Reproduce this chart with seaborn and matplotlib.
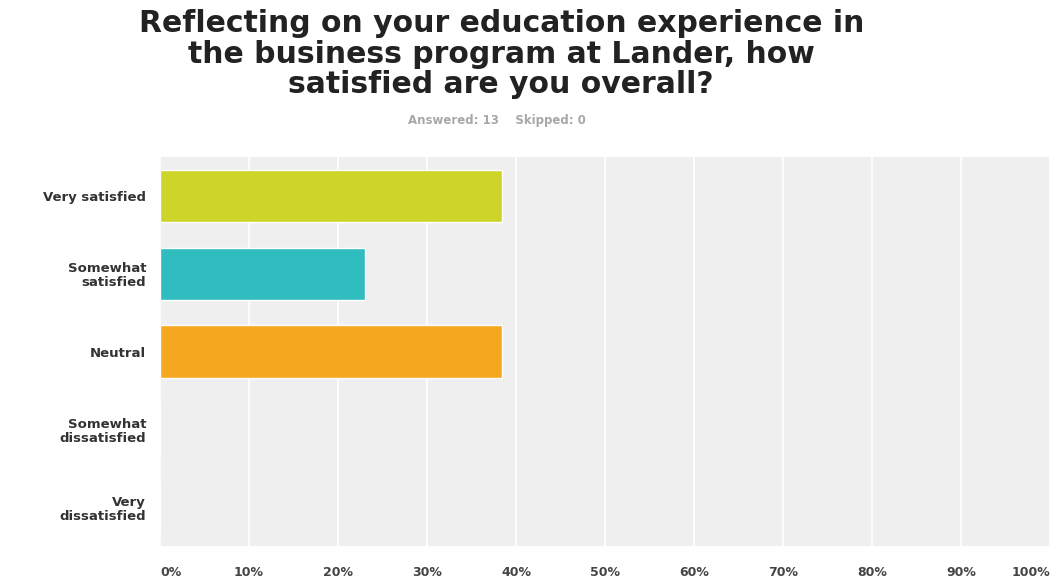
import matplotlib
matplotlib.use("Agg")
import matplotlib.pyplot as plt
import seaborn as sns
import pandas as pd

# survey answers (13 responses)
categories = ["Very satisfied", "Somewhat\nsatisfied", "Neutral",
              "Somewhat\ndissatisfied", "Very\ndissatisfied"]
percent = [38.46, 23.08, 38.46, 0, 0]
colors = ["#cdd42a", "#2fbdc0", "#f5a81f", "#e3684c", "#8e6fb5"]
xticks = [0, 10, 20, 30, 40, 50, 60, 70, 80, 90, 100]
xtick_labels = [f"{t}%" for t in xticks]

df = pd.DataFrame({"answer": categories, "pct": percent})

sns.set_style("white")
plt.rcParams["font.family"] = ["DejaVu Sans"]

fig = plt.figure(figsize=(10.53, 5.83), dpi=100)
ax = fig.add_axes([0.152, 0.063, 0.845, 0.668])

sns.barplot(data=df, x="pct", y="answer", hue="answer", palette=colors,
            order=categories, width=0.67, saturation=1, legend=False,
            ax=ax, zorder=3)

ax.set_facecolor("#efefef")
ax.set_xlim(0, 100)
ax.set_xticks(xticks)
ax.set_xticklabels(xtick_labels)
ax.grid(axis="x", color="white", linewidth=1.2, zorder=0)
ax.set_axisbelow(True)
for s in ax.spines.values():
    s.set_visible(False)
ax.set_xlabel("")
ax.set_ylabel("")
ax.tick_params(axis="both", length=0)
ax.tick_params(axis="x", pad=14)
ax.tick_params(axis="y", pad=10)
for lab in ax.get_xticklabels():
    lab.set_fontsize(9)
    lab.set_fontweight("bold")
    lab.set_color("#444444")
ax.get_xticklabels()[-1].set_horizontalalignment("right")
ax.get_xticklabels()[0].set_horizontalalignment("left")
for lab in ax.get_yticklabels():
    lab.set_fontsize(9.5)
    lab.set_fontweight("bold")
    lab.set_color("#333333")
    lab.set_linespacing(1.1)

fig.text(0.476, 0.984, "Reflecting on your education experience in\n"
         "the business program at Lander, how\nsatisfied are you overall?",
         ha="center", va="top", fontsize=21.5, fontweight="bold",
         color="#222222", linespacing=1.06)
fig.text(0.472, 0.793, "Answered: 13    Skipped: 0", ha="center", va="center",
         fontsize=8.5, fontweight="bold", color="#a8a8a8")

fig.savefig("out.png", dpi=100)
